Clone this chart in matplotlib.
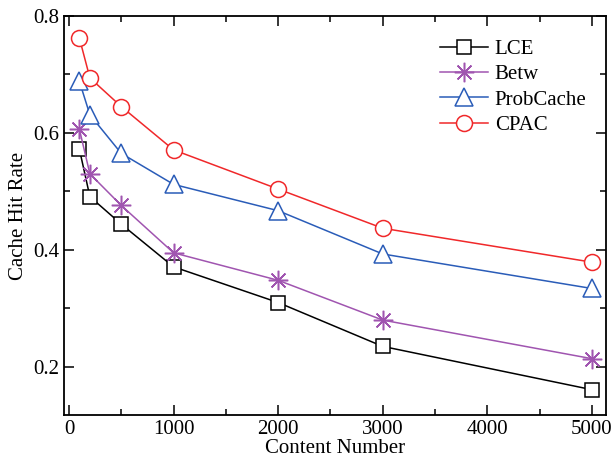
import matplotlib
matplotlib.use("Agg")
import matplotlib.pyplot as plt
from matplotlib.ticker import MultipleLocator

# content numbers on the x axis
content_num = [100, 200, 500, 1000, 2000, 3000, 5000]

# cache hit rate per scheme
lce = [0.572, 0.491, 0.444, 0.371, 0.310, 0.235, 0.161]
betw = [0.606, 0.530, 0.476, 0.395, 0.348, 0.280, 0.214]
probcache = [0.688, 0.631, 0.565, 0.512, 0.467, 0.393, 0.334]
cpac = [0.762, 0.694, 0.645, 0.571, 0.504, 0.437, 0.379]

plt.rcParams['font.family'] = ['Liberation Serif', 'DejaVu Serif']

fig = plt.figure(figsize=(6.12, 4.68), dpi=100)
ax = fig.add_axes([0.105, 0.113, 0.886, 0.853])

lw = 1.1
ax.plot(content_num, lce, color='black', lw=lw, marker='s', ms=10,
        mfc='white', mec='black', mew=1.1, label='LCE')
ax.plot(content_num, betw, color='#A055B0', lw=lw, marker=(8, 2, 0), ms=14,
        mec='#A055B0', mew=1.1, label='Betw')
ax.plot(content_num, probcache, color='#2A5CB8', lw=lw, marker='^', ms=13,
        mfc='white', mec='#2A5CB8', mew=1.1, label='ProbCache')
ax.plot(content_num, cpac, color='#F0282A', lw=lw, marker='o', ms=11.5,
        mfc='white', mec='#F0282A', mew=1.1, label='CPAC')

ax.set_xlim(-45, 5140)
ax.set_ylim(0.1175, 0.8)
ax.xaxis.set_major_locator(MultipleLocator(1000))
ax.xaxis.set_minor_locator(MultipleLocator(500))
ax.yaxis.set_major_locator(MultipleLocator(0.2))
ax.yaxis.set_minor_locator(MultipleLocator(0.1))
ax.tick_params(which='both', direction='in', top=True, right=True,
               labelsize=15, width=1.1)
ax.tick_params(which='major', length=7)
ax.tick_params(which='minor', length=4)
for s in ax.spines.values():
    s.set_linewidth(1.3)

ax.set_xlabel('Content Number', fontsize=15, labelpad=0)
ax.set_ylabel('Cache Hit Rate', fontsize=15, labelpad=4)

ax.legend(loc='upper right', frameon=False, fontsize=15, handlelength=2.35,
          labelspacing=0.28, handletextpad=0.3, borderpad=0.2,
          bbox_to_anchor=(0.99, 0.978))

fig.savefig('out.png', dpi=100)
